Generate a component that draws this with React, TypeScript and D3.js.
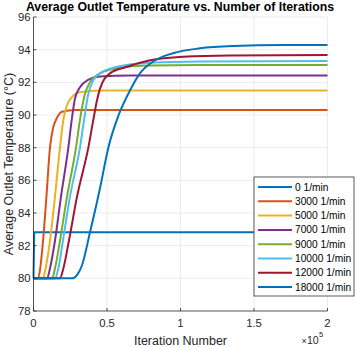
import React from 'react'
import * as d3 from 'd3'

// rotor speeds shown in the legend
const speeds = ['0 1/min', '3000 1/min', '5000 1/min', '7000 1/min', '9000 1/min', '10000 1/min', '12000 1/min', '18000 1/min']
const colors = ['#0072BD', '#D95319', '#EDB120', '#7E2F8E', '#77AC30', '#4DBEEE', '#A2142F', '#0072BD']

// [iteration, average outlet temperature]
const s0 = [[0, 80], [500, 82.82], [200000, 82.82]]
const s3000 = [[0, 80], [3100, 80], [4400, 80.5], [6500, 82.3], [8800, 85], [11200, 88], [13300, 89.2], [15800, 89.8], [19400, 90.2], [28200, 90.3], [200000, 90.3]]
const s5000 = [[0, 80], [6500, 80], [8200, 80.6], [11200, 82.3], [14600, 85], [18000, 88], [20300, 89.7], [22800, 90.6], [26200, 91.1], [31600, 91.4], [45200, 91.5], [200000, 91.5]]
const s7000 = [[0, 80], [9200, 80], [11200, 80.6], [14600, 82.3], [18700, 85], [23700, 88], [26000, 89.7], [28200, 91.0], [31600, 91.7], [37100, 92.15], [45200, 92.35], [65600, 92.42], [200000, 92.42]]
const s9000 = [[0, 80], [12600, 80], [14600, 80.6], [18000, 82.3], [22800, 85], [28900, 88], [31600, 89.7], [35000, 91.3], [38400, 92.0], [43200, 92.45], [56800, 92.86], [79300, 93.03], [113300, 93.06], [200000, 93.06]]
const s10000 = [[0, 80], [14600, 80], [16900, 80.6], [20000, 82.3], [24800, 85], [31600, 88], [34400, 89.7], [37300, 91.3], [40500, 92.1], [45200, 92.55], [56800, 92.95], [79300, 93.2], [113300, 93.28], [200000, 93.3]]
const s12000 = [[0, 80], [18000, 80], [20300, 80.6], [24100, 82.3], [29600, 85], [37300, 88], [40700, 89.7], [43200, 90.9], [45200, 91.6], [52000, 92.55], [63600, 92.95], [79300, 93.35], [101700, 93.57], [133700, 93.65], [200000, 93.67]]
const s18000 = [[0, 80], [26200, 80], [29600, 80.2], [33000, 80.8], [38400, 82.8], [45200, 85.5], [50900, 88], [58200, 90.06], [65600, 91.5], [72400, 92.55], [81200, 93.26], [94800, 93.78], [113300, 94.08], [135700, 94.22], [169700, 94.28], [200000, 94.28]]
const series = [s0, s3000, s5000, s7000, s9000, s10000, s12000, s18000]

const xTicks = [0, 50000, 100000, 150000, 200000]
const yTicks = [78, 80, 82, 84, 86, 88, 90, 92, 94, 96]

const W = 357, H = 347
const left = 33.5, right = 327.5, top = 17, bottom = 311
const txt = '#262626'
const font = 'Arial, "Liberation Sans", Helvetica, sans-serif'

export default function App() {
  const x = d3.scaleLinear().domain([0, 200000]).range([left, right])
  const y = d3.scaleLinear().domain([78, 96]).range([bottom, top])

  const line = d3.line<number[]>()
    .x(d => x(d[0]))
    .y(d => y(d[1]))
    .curve(d3.curveMonotoneX)
  const straight = d3.line<number[]>().x(d => x(d[0])).y(d => y(d[1]))

  // legend box
  const lx = 254, ly = 177, lw = 100, lh = 119
  const rowH = 14.3

  return (
    <svg width={W} height={H} style={{ position: 'absolute', left: 0, top: 0, background: '#fff' }}
      fontFamily={font}>
      {/* grid */}
      {xTicks.slice(1).map(t => (
        <line key={'gx' + t} x1={x(t)} x2={x(t)} y1={top} y2={bottom} stroke="#e4e4e4" strokeWidth={0.7} />
      ))}
      {yTicks.slice(1).map(t => (
        <line key={'gy' + t} x1={left} x2={right} y1={y(t)} y2={y(t)} stroke="#e4e4e4" strokeWidth={0.7} />
      ))}

      {/* series */}
      {series.map((s, i) => (
        <path key={speeds[i]} d={(i === 0 ? straight(s) : line(s)) || ''} fill="none"
          stroke={colors[i]} strokeWidth={2} strokeLinejoin="round" />
      ))}

      {/* axes */}
      <line x1={left} x2={left} y1={top} y2={bottom} stroke={txt} strokeWidth={0.8} />
      <line x1={left} x2={right} y1={bottom} y2={bottom} stroke={txt} strokeWidth={0.8} />
      {yTicks.map(t => (
        <g key={'yt' + t}>
          <line x1={left} x2={left + 3} y1={y(t)} y2={y(t)} stroke={txt} strokeWidth={0.8} />
          <text x={left - 3} y={y(t)} dy="0.35em" textAnchor="end" fontSize={11.3} fill={txt}>{t}</text>
        </g>
      ))}
      {xTicks.map(t => (
        <g key={'xt' + t}>
          <line x1={x(t)} x2={x(t)} y1={bottom} y2={bottom - 3} stroke={txt} strokeWidth={0.8} />
          <text x={x(t)} y={327} textAnchor="middle" fontSize={11.3} fill={txt}>{d3.format('~g')(t / 1e5)}</text>
        </g>
      ))}

      {/* labels */}
      <text x={180} y={11} textAnchor="middle" fontSize={12.3} fontWeight="bold" fill="#000">
        Average Outlet Temperature vs. Number of Iterations
      </text>
      <text x={180.5} y={344.5} textAnchor="middle" fontSize={12.5} fill={txt}>Iteration Number</text>
      <text transform={`translate(12.5,${(top + bottom) / 2}) rotate(-90)`} textAnchor="middle" fontSize={12.5} fill={txt}>
        Average Outlet Temperature (°C)
      </text>
      <text x={301.5} y={344} fontSize={9} fill={txt}>×</text>
      <text x={307} y={344} fontSize={10.5} fill={txt}>10</text>
      <text x={319} y={337} fontSize={7.5} fill={txt}>5</text>

      {/* legend */}
      <rect x={lx} y={ly} width={lw} height={lh} fill="#fff" stroke="#333" strokeWidth={0.8} />
      {speeds.map((s, i) => (
        <g key={'lg' + s}>
          <line x1={lx + 4} x2={lx + 38} y1={ly + 10 + i * rowH} y2={ly + 10 + i * rowH} stroke={colors[i]} strokeWidth={2} />
          <text x={lx + 41} y={ly + 10 + i * rowH} dy="0.35em" fontSize={10.2} fill="#000">{s}</text>
        </g>
      ))}
    </svg>
  )
}
